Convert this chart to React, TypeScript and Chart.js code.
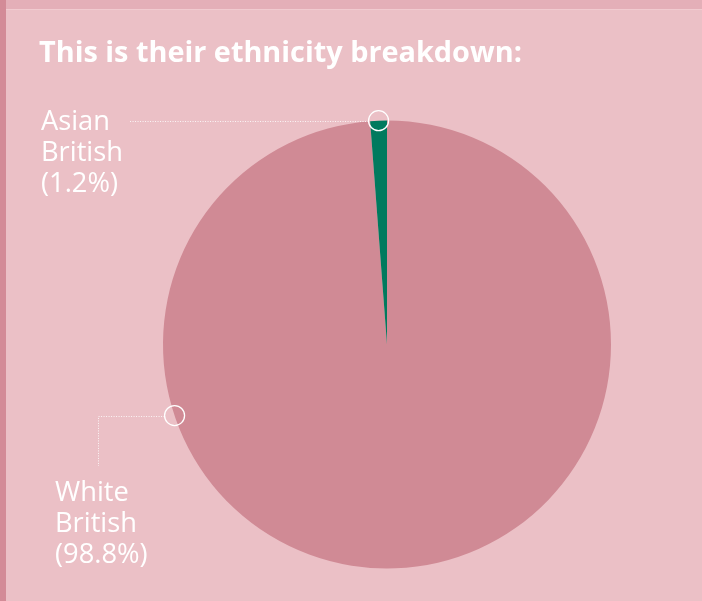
import React, { useEffect, useRef } from "react";
import { Chart, registerables } from "chart.js";

Chart.register(...registerables);

const titleText = "This is their ethnicity breakdown:";
const categories = ["White British", "Asian British"];
const shares = [98.8, 1.2];
const labelLines = [
  ["White", "British", "(98.8%)"],
  ["Asian", "British", "(1.2%)"],
];

const COLORS = {
  bg: "#ebc0c6",
  topBand: "#e4afb8",
  topLine: "#f1cbd0",
  leftStrip: "#d38b97",
  pie: "#d08a95",
  green: "#007a5e",
  white: "#ffffff",
};

const FONT = "'Open Sans', 'Noto Sans', sans-serif";

function fitFont(ctx: any, text: string, weight: string, target: number) {
  ctx.font = `${weight} 100px ${FONT}`;
  const w = ctx.measureText(text).width;
  const size = (100 * target) / w;
  ctx.font = `${weight} ${size}px ${FONT}`;
}

const decorPlugin = {
  id: "decor",
  beforeDraw(chart: any) {
    const { ctx, width, height } = chart;
    ctx.save();
    ctx.fillStyle = COLORS.bg;
    ctx.fillRect(0, 0, width, height);
    ctx.fillStyle = COLORS.topBand;
    ctx.fillRect(0, 0, width, 9);
    ctx.fillStyle = COLORS.topLine;
    ctx.fillRect(0, 9, width, 1);
    ctx.fillStyle = COLORS.leftStrip;
    ctx.fillRect(0, 0, 6, height);
    ctx.fillStyle = COLORS.white;
    fitFont(ctx, titleText, "bold", 483);
    ctx.textBaseline = "alphabetic";
    ctx.textAlign = "left";
    ctx.fillText(titleText, 39, 62);
    ctx.restore();
  },
  afterDraw(chart: any) {
    const { ctx } = chart;
    const meta = chart.getDatasetMeta(0);
    const arcs = meta.data;
    if (!arcs.length) return;
    const cx = arcs[0].x;
    const cy = arcs[0].y;
    const r = arcs[0].outerRadius;
    ctx.save();
    ctx.strokeStyle = "rgba(255,255,255,0.85)";
    ctx.fillStyle = COLORS.white;

    const a1 = arcs[1];
    const mid = (a1.startAngle + a1.endAngle) / 2;
    const p1x = cx + Math.cos(mid) * r;
    const p1y = cy + Math.sin(mid) * r;
    const ang0 = (161.5 * Math.PI) / 180;
    const p0x = cx + Math.cos(ang0) * r;
    const p0y = cy + Math.sin(ang0) * r;

    ctx.lineWidth = 1;
    ctx.setLineDash([1, 1.5]);
    ctx.beginPath();
    ctx.moveTo(p1x - 10, Math.round(p1y) + 0.5);
    ctx.lineTo(130, Math.round(p1y) + 0.5);
    ctx.stroke();
    ctx.beginPath();
    ctx.moveTo(p0x - 10, Math.round(p0y) + 0.5);
    ctx.lineTo(98.5, Math.round(p0y) + 0.5);
    ctx.lineTo(98.5, 466);
    ctx.stroke();
    ctx.setLineDash([]);

    ctx.strokeStyle = COLORS.white;
    ctx.lineWidth = 1.3;
    [
      [p1x, p1y],
      [p0x, p0y],
    ].forEach(([x, y]) => {
      ctx.beginPath();
      ctx.arc(x, y, 10, 0, Math.PI * 2);
      ctx.stroke();
    });

    fitFont(ctx, "British", "normal", 82);
    ctx.textBaseline = "alphabetic";
    ctx.textAlign = "left";
    labelLines[1].forEach((t, i) => ctx.fillText(t, 41, 130 + i * 31));
    labelLines[0].forEach((t, i) => ctx.fillText(t, 55, 501 + i * 31));
    ctx.restore();
  },
};

export default function App() {
  const ref = useRef<HTMLCanvasElement>(null);
  useEffect(() => {
    document.body.style.margin = "0";
    const chart = new Chart(ref.current!, {
      type: "pie",
      data: {
        labels: categories,
        datasets: [
          {
            data: shares,
            backgroundColor: [COLORS.pie, COLORS.green],
            borderWidth: 0,
          },
        ],
      },
      options: {
        animation: false,
        responsive: false,
        layout: { padding: { left: 163, right: 91, top: 120.5, bottom: 32.5 } },
        plugins: {
          legend: { display: false },
          tooltip: { enabled: false },
          title: { display: false },
        },
      },
      plugins: [decorPlugin],
    });
    return () => chart.destroy();
  }, []);
  return (
    <div style={{ width: 702, height: 601 }}>
      <canvas ref={ref} width={702} height={601} style={{ display: "block" }} />
    </div>
  );
}
